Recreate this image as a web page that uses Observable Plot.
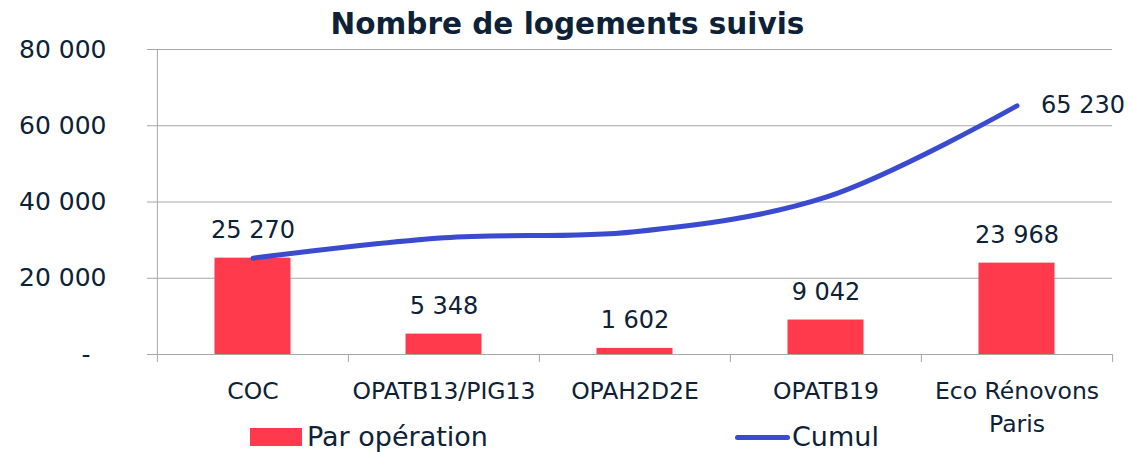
<!DOCTYPE html>
<html><head><meta charset="utf-8">
<script src="https://cdn.jsdelivr.net/npm/d3@7"></script>
<script src="https://cdn.jsdelivr.net/npm/@observablehq/plot@0.6"></script>
<style>
body{margin:0;background:#fff;font-family:"DejaVu Sans",sans-serif;color:#0d2137}
#wrap{width:1130px;height:452px;position:relative;overflow:hidden;background:#fff}
#title{height:36px;line-height:36px;text-align:center;font-weight:bold;font-size:29.5px;padding-left:5px;box-sizing:border-box}
#title span{position:relative;top:6px}
#legend{position:relative;height:18px;margin-top:-8px}
.sw-bar{position:absolute;left:250px;top:0;width:52px;height:18px;background:#ff3a4c}
.sw-line{position:absolute;left:735px;top:6.5px;width:55px;height:5px;border-radius:3px;background:#3a4bcf}
.lg-text{position:absolute;top:0;line-height:18px;font-size:27px;white-space:nowrap}
</style></head>
<body>
<div id="wrap">
<div id="title"><span>Nombre de logements suivis</span></div>
<div id="chart"></div>
<div id="legend">
<div class="sw-bar"></div><div class="lg-text" style="left:307px">Par opération</div>
<div class="sw-line"></div><div class="lg-text" style="left:792px">Cumul</div>
</div>
</div>
<script>
const categories = ["COC", "OPATB13/PIG13", "OPAH2D2E", "OPATB19", "Eco Rénovons Paris"];
const xLabels = ["COC", "OPATB13/PIG13", "OPAH2D2E", "OPATB19", "Eco Rénovons\nParis"];
const parOperation = [25270, 5348, 1602, 9042, 23968];
const cumul = [25270, 30618, 32220, 41262, 65230];
const yTicks = [0, 20000, 40000, 60000, 80000];

const data = categories.map((c, i) => ({cat: c, value: parOperation[i], cumul: cumul[i]}));
const W = 1130, H = 400, mL = 156, mR = 18, mT = 13, mB = 82;
const step = (W - mL - mR) / categories.length;
const loc = d3.formatLocale({decimal: ",", thousands: "\u00a0", grouping: [3], currency: ["", "€"]});
const fmt = loc.format(",d");
const navy = "#0d2137", grid = "#a6a6a6", red = "#ff3a4c", blue = "#3a4bcf";

const plot = Plot.plot({
  width: W, height: H, marginLeft: mL, marginRight: mR, marginTop: mT, marginBottom: mB,
  style: {fontFamily: "DejaVu Sans", color: navy, background: "white", overflow: "visible"},
  x: {type: "band", domain: categories, padding: 0},
  y: {domain: [0, 80000]},
  marks: [
    Plot.gridY(yTicks, {stroke: grid, strokeOpacity: 1}),
    Plot.axisY(yTicks, {tickFormat: d => d === 0 ? "-\u00a0\u00a0" : fmt(d), tickSize: 9, tickPadding: 41, stroke: grid, strokeOpacity: 1, fill: navy, fontSize: 25, label: null}),
    Plot.axisX({tickSize: 0, tickPadding: 21, tickFormat: d => xLabels[categories.indexOf(d)], fontSize: 23.5, lineHeight: 1.4, fill: navy, label: null}),
    Plot.ruleX([categories[0]], {x: d => d, y1: 80000, y2: 0, dx: -step / 2, insetBottom: -8, stroke: grid}),
    Plot.ruleX(categories.slice(1), {x: d => d, y1: 0, y2: 0, dx: -step / 2, insetBottom: -8, stroke: grid}),
    Plot.ruleX(categories.slice(-1), {x: d => d, y1: 0, y2: 0, dx: step / 2, insetBottom: -8, stroke: grid}),
    Plot.barY(data, {x: "cat", y: "value", fill: red, insetLeft: 57.5, insetRight: 57.5}),
    Plot.text(data, {x: "cat", y: "value", text: d => fmt(d.value), lineAnchor: "bottom", dy: -20, fontSize: 24, fill: navy}),
    Plot.line(data, {x: "cat", y: "cumul", curve: "catmull-rom", stroke: blue, strokeWidth: 5, strokeLinecap: "round"}),
    Plot.text(data.slice(-1), {x: "cat", y: "cumul", text: d => fmt(d.cumul), textAnchor: "start", dx: 24, fontSize: 24, fill: navy})
  ]
});
document.getElementById("chart").appendChild(plot);
</script>
</body></html>
